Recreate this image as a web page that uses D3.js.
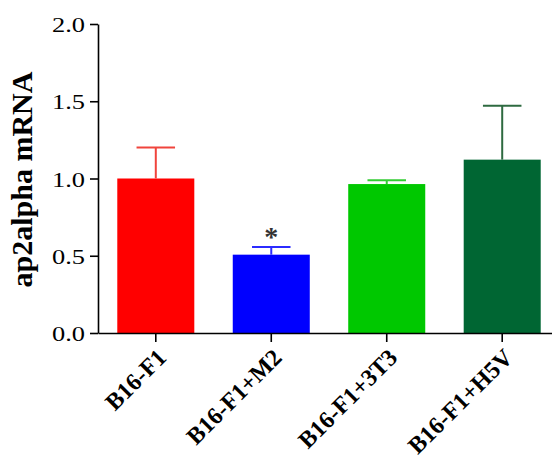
<!DOCTYPE html>
<html>
<head>
<meta charset="utf-8">
<script src="https://cdn.jsdelivr.net/npm/d3@7"></script>
<style>
  body { margin: 0; background: #fff; }
  svg { display: block; }
  text { font-family: "Liberation Serif", "Times New Roman", serif; }
</style>
</head>
<body>
<svg id="chart" width="552" height="467"></svg>
<script>
const categories = ["B16-F1", "B16-F1+M2", "B16-F1+3T3", "B16-F1+H5V"];
const means = [1.0, 0.507, 0.964, 1.122];
const errors = [0.2, 0.05, 0.024, 0.349];
const barColors = ["#ff0000", "#0000ff", "#00c800", "#006633"];
const errColors = ["#f0443c", "#2b2bff", "#33cc33", "#2e6a40"];
const significance = ["", "*", "", ""];
const yTicks = [0, 0.5, 1.0, 1.5, 2.0];
const yLabel = "ap2alpha mRNA";

const FONT = '"Liberation Serif", "Times New Roman", serif';
const svg = d3.select("#chart");
const x0 = 98, x1 = 560, yTop = 24, yBot = 333;

const x = d3.scaleBand().domain(categories).range([x0, x1])
  .paddingInner(0.333).paddingOuter(0.167);
const y = d3.scaleLinear().domain([0, 2]).range([yBot, yTop]);

// bars
svg.selectAll("rect.bar").data(categories).join("rect")
  .attr("class", "bar")
  .attr("x", d => x(d))
  .attr("width", x.bandwidth())
  .attr("y", (d, i) => y(means[i]))
  .attr("height", (d, i) => y(0) - y(means[i]))
  .attr("fill", (d, i) => barColors[i]);

// error bars
const capW = x.bandwidth() / 2;
const eg = svg.append("g");
categories.forEach((c, i) => {
  const cx = x(c) + x.bandwidth() / 2;
  eg.append("line").attr("x1", cx).attr("x2", cx)
    .attr("y1", y(means[i])).attr("y2", y(means[i] + errors[i]))
    .attr("stroke", errColors[i]).attr("stroke-width", 2);
  eg.append("line").attr("x1", cx - capW / 2).attr("x2", cx + capW / 2)
    .attr("y1", y(means[i] + errors[i])).attr("y2", y(means[i] + errors[i]))
    .attr("stroke", errColors[i]).attr("stroke-width", 2);
  if (significance[i]) {
    svg.append("text").attr("x", cx).attr("y", y(means[i] + errors[i]) - 1)
      .attr("text-anchor", "middle")
      .style("font-family", FONT).attr("font-size", 28).attr("font-weight", "bold")
      .attr("fill", "#333").text(significance[i]);
  }
});

// y axis
const yAxis = svg.append("g").attr("transform", `translate(${x0},0)`)
  .call(d3.axisLeft(y).tickValues(yTicks).tickFormat(d3.format(".1f")).tickSize(8).tickSizeOuter(0));
yAxis.select(".domain").attr("stroke", "#000").attr("stroke-width", 1.6);
yAxis.selectAll(".tick line").attr("stroke", "#000").attr("stroke-width", 1.6);
yAxis.selectAll(".tick text")
  .style("font-family", FONT).attr("font-size", 22).attr("fill", "#000")
  .attr("x", 0).attr("y", 0).attr("dy", "0.35em")
  .attr("transform", "translate(-13,0) scale(1.2,1)");

// x axis
const xAxis = svg.append("g").attr("transform", `translate(0,${yBot})`)
  .call(d3.axisBottom(x).tickSize(9).tickSizeOuter(0));
xAxis.select(".domain").attr("stroke", "#000").attr("stroke-width", 1.6);
xAxis.selectAll(".tick line").attr("stroke", "#000").attr("stroke-width", 1.6);
xAxis.selectAll(".tick text")
  .style("font-family", FONT).attr("font-size", 24).attr("font-weight", "bold")
  .attr("fill", "#000")
  .attr("text-anchor", "end")
  .attr("transform", "translate(6,20) rotate(-45)")
  .attr("x", 0).attr("y", 0).attr("dy", "0.35em");

// y label
svg.append("text")
  .attr("transform", `translate(32,${(yTop + yBot) / 2 + 1}) rotate(-90)`)
  .attr("text-anchor", "middle")
  .style("font-family", FONT).attr("font-size", 30).attr("font-weight", "bold")
  .attr("fill", "#000")
  .text(yLabel);
</script>
</body>
</html>
